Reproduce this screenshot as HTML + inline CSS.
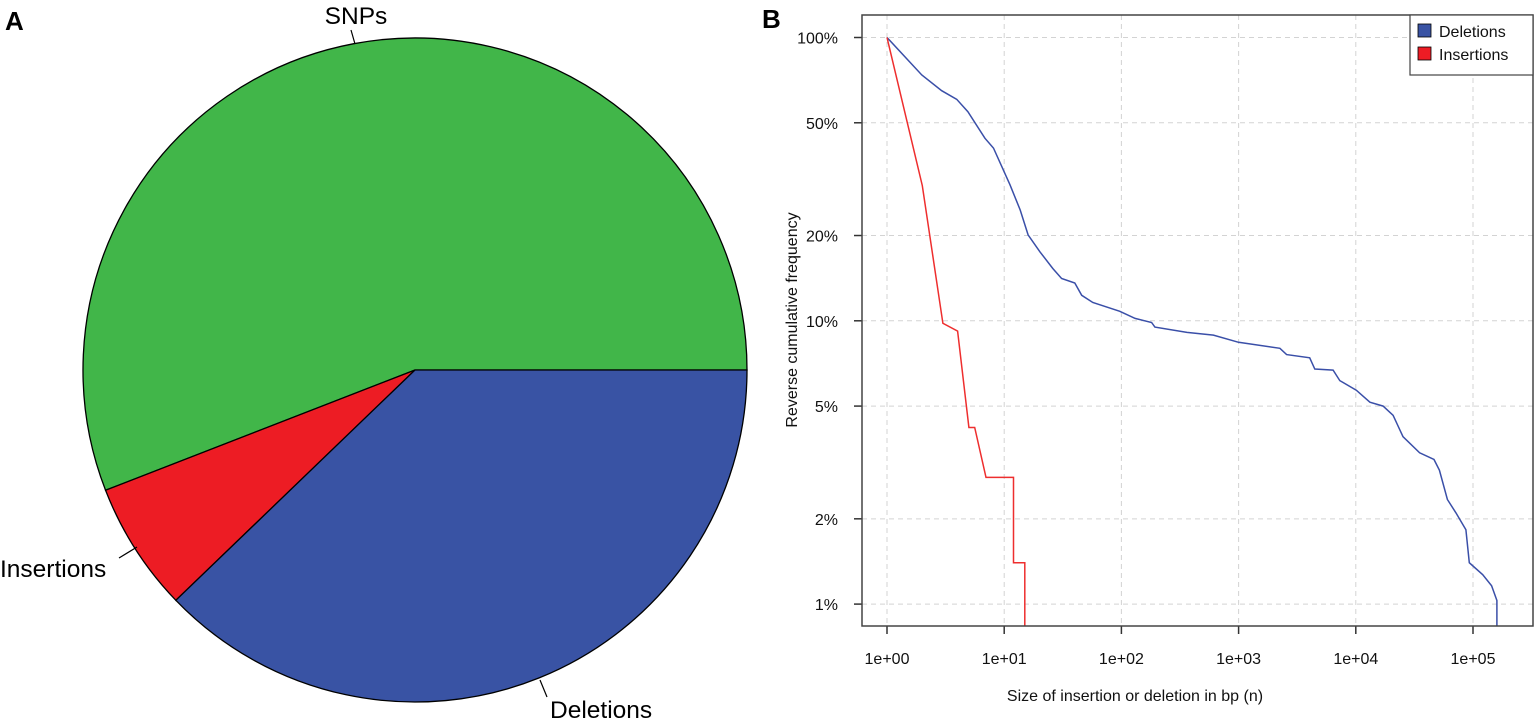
<!DOCTYPE html>
<html><head><meta charset="utf-8"><style>
html,body{margin:0;padding:0;background:#fff;}
svg{display:block;font-family:"Liberation Sans",Arial,sans-serif;}
</style></head><body>
<svg id="root" width="1535" height="720" viewBox="0 0 1535 720">
<text x="5" y="30" font-size="26" font-weight="bold">A</text>
<text x="762" y="28" font-size="26" font-weight="bold">B</text>
<g id="pie"></g>
<g id="chart"></g>
</svg>
<script>
const sliceLabels=["SNPs","Insertions","Deletions"];
const sliceValues=[55.9,6.3,37.8];
const sliceColors=["#41b649","#ed1c24","#3953a4"];

const tickXLabels=["1e+00","1e+01","1e+02","1e+03","1e+04","1e+05"];
const tickXValues=[1,10,100,1000,10000,100000];
const tickYValues=[0.01,0.02,0.05,0.1,0.2,0.5,1];
const tickYLabels=["1%","2%","5%","10%","20%","50%","100%"];
const delSizes=[1,1.98,2.93,3.93,4.9,6.85,8.1,11.2,13.7,16,20.2,26,30.9,40,45.8,57,97,131,181,193,362,610,1000,2250,2570,4040,4470,6400,7300,10100,13200,17100,20800,25300,35000,46500,51700,60500,71500,87000,93000,121000,144000,160000,160000];
const delFreq=[1,0.737,0.649,0.605,0.547,0.441,0.407,0.302,0.246,0.201,0.175,0.153,0.141,0.136,0.123,0.116,0.108,0.102,0.0986,0.095,0.091,0.089,0.084,0.080,0.076,0.074,0.0676,0.067,0.0615,0.0569,0.0516,0.050,0.0464,0.039,0.0342,0.0324,0.0297,0.0234,0.021,0.0183,0.014,0.0127,0.0116,0.0103,0.005];
const insSizes=[1,2,3,4,4,5,5.6,7,12,12,15,15];
const insFreq=[1,0.30,0.098,0.092,0.092,0.042,0.042,0.028,0.028,0.014,0.014,0.005];

const NS="http://www.w3.org/2000/svg";
function mk(tag,attrs,parent){const e=document.createElementNS(NS,tag);for(const k in attrs)e.setAttribute(k,attrs[k]);parent.appendChild(e);return e;}

// PIE
const pie=document.getElementById('pie');
const cx=415,cy=370,r=332;
const total=sliceValues.reduce((a,b)=>a+b,0);
let ang=0;
const labelPos=[[356,24,"middle"],[0,577,"start"],[550,718,"start"]];
const leaders=[[351,30,355,44],[119,558,137,547],[540,680,547,697]];
sliceValues.forEach((v,i)=>{
  const a0=ang,a1=ang+v/total*2*Math.PI;ang=a1;
  const x0=cx+r*Math.cos(a0),y0=cy-r*Math.sin(a0),x1=cx+r*Math.cos(a1),y1=cy-r*Math.sin(a1);
  const large=(a1-a0)>Math.PI?1:0;
  const p=mk('path',{d:`M${cx},${cy}L${x0},${y0}A${r},${r} 0 ${large} 0 ${x1},${y1}Z`,fill:sliceColors[i],stroke:"#000","stroke-width":1.3},pie);
  
  
  const l=leaders[i];
  const ln=mk('line',{x1:l[0],y1:l[1],x2:l[2],y2:l[3],stroke:"#000","stroke-width":1.2},pie);
  
  
  const lp=labelPos[i];
  const t=mk('text',{x:lp[0],y:lp[1],"font-size":24.5,"text-anchor":lp[2]},pie);
  t.textContent=sliceLabels[i];
  
  
});

// CHART
const g=document.getElementById('chart');
const L=862,R=1533,T=15,B=626;
const xs=v=>887+Math.log10(v)*117.2;
const ys=v=>37.5-Math.log10(v)*283.3;
tickXValues.forEach((v,i)=>{
  const gl=mk('line',{x1:xs(v),x2:xs(v),y1:T,y2:B,stroke:"#d3d3d3","stroke-dasharray":"5,4"},g);
  
  const tk=mk('line',{x1:xs(v),x2:xs(v),y1:B,y2:B+8,stroke:"#333","stroke-width":1.5},g);
  
  const t=mk('text',{x:xs(v),y:B+38,"font-size":16,"text-anchor":"middle",fill:"#111"},g);
  t.textContent=tickXLabels[i];
  
});
tickYValues.forEach((v,i)=>{
  const gl=mk('line',{x1:L,x2:R,y1:ys(v),y2:ys(v),stroke:"#d3d3d3","stroke-dasharray":"5,4"},g);
  
  const tk=mk('line',{x1:L-8,x2:L,y1:ys(v),y2:ys(v),stroke:"#333","stroke-width":1.5},g);
  
  const t=mk('text',{x:L-24,y:ys(v)+6,"font-size":16,"text-anchor":"end",fill:"#111"},g);
  t.textContent=tickYLabels[i];
  
});
const clip=mk('clipPath',{id:'pc'},g);mk('rect',{x:L,y:T,width:R-L,height:B-T},clip);
function series(sz,fr,col,name){
  const pts=sz.map((s,i)=>xs(s).toFixed(1)+','+ys(fr[i]).toFixed(1)).join(' ');
  const pl=mk('polyline',{points:pts,fill:'none',stroke:col,"stroke-width":1.5,"clip-path":"url(#pc)"},g);
  
}
series(delSizes,delFreq,"#3a4fa8","deletions-line");
series(insSizes,insFreq,"#ee2e2e","insertions-line");
const box=mk('rect',{x:L,y:T,width:R-L,height:B-T,fill:'none',stroke:'#444',"stroke-width":1.5},g);

const xt=mk('text',{x:1135,y:701,"font-size":16,"text-anchor":"middle",fill:"#111"},g);
xt.textContent="Size of insertion or deletion in bp (n)";

const yt=mk('text',{x:0,y:0,"font-size":16,"text-anchor":"middle",fill:"#111",transform:"translate(797,320) rotate(-90)"},g);
yt.textContent="Reverse cumulative frequency";

// legend
const lg=mk('g',{},g);

mk('rect',{x:1410,y:15,width:123,height:60,fill:'#fff',stroke:'#444',"stroke-width":1.2},lg);
[["Deletions","#3953a4"],["Insertions","#ed1c24"]].forEach((e,i)=>{
  const eg=mk('g',{},lg);
  
  mk('rect',{x:1418,y:24+i*23,width:13,height:13,fill:e[1],stroke:'#000',"stroke-width":0.8},eg);
  const t=mk('text',{x:1439,y:37+i*23,"font-size":16,fill:'#111'},eg);t.textContent=e[0];
});
</script>
</body></html>
